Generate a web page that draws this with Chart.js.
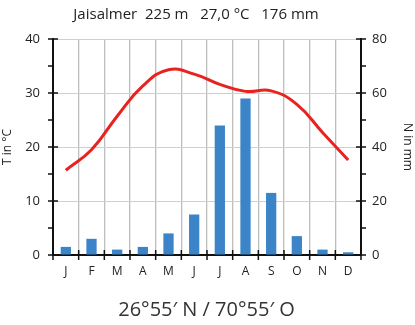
<!DOCTYPE html>
<html>
<head>
<meta charset="utf-8">
<script src="https://cdn.jsdelivr.net/npm/chart.js@4"></script>
<style>
  html, body { margin: 0; padding: 0; background: #fff; }
  #wrap { position: relative; width: 415px; height: 325px; font-family: "Open Sans", sans-serif; color: #222; }
  #title { position: absolute; left: 0; width: 392px; top: 3px; text-align: center; font-size: 15px; white-space: pre; }
  #caption { position: absolute; left: 0; width: 413px; top: 295px; text-align: center; font-size: 20px; color: #333; white-space: pre; }
  canvas { position: absolute; left: 0; top: 0; }
</style>
</head>
<body>
<div id="wrap">
  <canvas id="chart" width="415" height="325"></canvas>
  <div id="title">Jaisalmer  225 m   27,0 °C   176 mm</div>
  <div id="caption">26°55′ N / 70°55′ O</div>
</div>
<script>
// Klimadiagramm Jaisalmer
const MONTHS = ['J', 'F', 'M', 'A', 'M', 'J', 'J', 'A', 'S', 'O', 'N', 'D'];
const TEMP   = [15.7, 19.5, 25.7, 31.3, 34.3, 33.5, 31.6, 30.3, 30.4, 27.9, 22.7, 17.6];
const PRECIP = [3, 6, 2, 3, 8, 15, 48, 58, 23, 7, 2, 1];

const T_MAX = 40, N_MAX = 80;

// Tickmarks kreuzen die Achsen (wie im Original)
const axisTicks = {
  id: 'axisTicks',
  afterDraw(chart) {
    const { ctx, chartArea: a, scales } = chart;
    ctx.save();
    ctx.strokeStyle = '#111';
    ctx.lineWidth = 1.5;
    ctx.beginPath();
    for (let v = 0; v <= T_MAX; v += 5) {
      const y = scales.y.getPixelForValue(v);
      const major = v % 10 === 0;
      ctx.moveTo(a.left - 5, y);
      ctx.lineTo(a.left + (major ? 5 : 1), y);
    }
    for (let v = 0; v <= N_MAX; v += 10) {
      const y = scales.y1.getPixelForValue(v);
      const major = v % 20 === 0;
      ctx.moveTo(a.right - (major ? 5 : 1), y);
      ctx.lineTo(a.right + 5, y);
    }
    for (let i = 0; i <= MONTHS.length; i++) {
      const x = i < MONTHS.length
        ? scales.x.getPixelForValue(i) - scales.x.width / MONTHS.length / 2
        : a.right;
      ctx.moveTo(x, a.bottom - 5);
      ctx.lineTo(x, a.bottom + 5);
    }
    ctx.stroke();
    ctx.restore();
  },
};

const FONT = { family: '"Open Sans", sans-serif', size: 12 };

new Chart(document.getElementById('chart'), {
  type: 'bar',
  data: {
    labels: MONTHS,
    datasets: [
      {
        type: 'line',
        label: 'T',
        data: TEMP,
        yAxisID: 'y',
        borderColor: '#e8231f',
        borderWidth: 3,
        pointRadius: 0,
        tension: 0.45,
        fill: false,
        order: 0,
      },
      {
        label: 'N',
        data: PRECIP,
        yAxisID: 'y1',
        backgroundColor: '#3b84c8',
        categoryPercentage: 1,
        barPercentage: 0.4,
        order: 1,
      },
    ],
  },
  options: {
    responsive: false,
    animation: false,
    layout: { padding: { left: 0, right: 0, top: 39, bottom: 0 } },
    plugins: { legend: { display: false }, tooltip: { enabled: false } },
    scales: {
      x: {
        offset: true,
        grid: { offset: true, color: '#bdbdbd', lineWidth: 1.3, drawTicks: false },
        border: { color: '#111', width: 2 },
        ticks: { color: '#222', font: FONT, padding: 9 },
        afterFit: s => { s.height = 70; },
      },
      y: {
        position: 'left',
        min: 0, max: T_MAX,
        grid: { color: '#cfcfcf', lineWidth: 1, drawTicks: false },
        border: { color: '#111', width: 2 },
        ticks: { stepSize: 10, color: '#222', font: { ...FONT, size: 13 }, padding: 13 },
        title: { display: true, text: 'T in °C', color: '#222', font: FONT, padding: { top: 0, bottom: 4 } },
        afterFit: s => { s.width = 53; },
      },
      y1: {
        position: 'right',
        min: 0, max: N_MAX,
        grid: { drawOnChartArea: false, drawTicks: false },
        border: { color: '#111', width: 2 },
        ticks: { stepSize: 20, color: '#222', font: { ...FONT, size: 13 }, padding: 11 },
        title: { display: true, text: 'N in mm', color: '#222', font: FONT, padding: 0 },
        afterFit: s => { s.width = 54; },
      },
    },
  },
  plugins: [axisTicks],
});
</script>
</body>
</html>
